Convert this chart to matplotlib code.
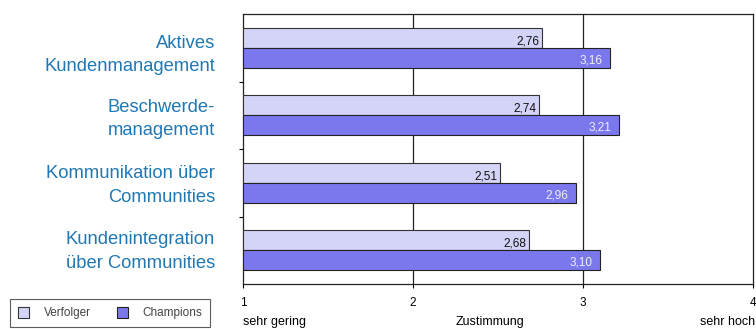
import numpy as np
import matplotlib.pyplot as plt
from matplotlib.patches import Patch

plt.rcParams['font.family'] = ['Liberation Sans', 'DejaVu Sans']

categories = ['Aktives\nKundenmanagement', 'Beschwerde-\nmanagement',
              'Kommunikation über\nCommunities', 'Kundenintegration\nüber Communities']
verfolger = [2.76, 2.74, 2.51, 2.68]
champions = [3.16, 3.21, 2.96, 3.10]
series_names = ['Verfolger', 'Champions']
xticks = [1, 2, 3, 4]

# vertical middle of each category label block, in pixels from the top
label_mid_px = [53, 117, 184, 250]

c_verf = '#d4d3f8'
c_champ = '#7b78ee'
c_label = '#1f78b4'

W, H = 756, 329
fig = plt.figure(figsize=(W / 100, H / 100), dpi=100)
ax = fig.add_axes([243 / W, 45 / H, 510 / W, 270 / H])

y = np.arange(len(categories))
h = 0.293
ax.barh(y - h / 2, np.array(verfolger) - 1, left=1, height=h, color=c_verf,
        edgecolor='#333333', linewidth=0.8, zorder=3)
ax.barh(y + h / 2, np.array(champions) - 1, left=1, height=h, color=c_champ,
        edgecolor='#222222', linewidth=0.8, zorder=3)

for i, (v, c) in enumerate(zip(verfolger, champions)):
    ax.text(v - 0.015, i - h / 2 + 0.05, f'{v:.2f}'.replace('.', ','), ha='right',
            va='center', fontsize=8.5, color='#111111', zorder=4)
    ax.text(c - 0.045, i + h / 2 + 0.04, f'{c:.2f}'.replace('.', ','), ha='right',
            va='center', fontsize=8.5, color='#eeeeff', zorder=4)

ax.set_xlim(1, 4)
ax.set_ylim(len(categories) - 0.5, -0.5)
ax.set_xticks(xticks)
ax.set_xticklabels([str(t) for t in xticks], fontsize=8.5)
ax.set_yticks([0.5, 1.5, 2.5])
ax.set_yticklabels([])
ax.tick_params(axis='y', direction='out', length=3, width=0.8, left=True)
ax.tick_params(axis='x', direction='out', length=3, width=0.8, pad=6)
for t in [2, 3]:
    ax.axvline(t, color='#222222', linewidth=0.9, zorder=1)
for s in ax.spines.values():
    s.set_linewidth(0.9)
    s.set_color('#222222')

for cat, mid in zip(categories, label_mid_px):
    fig.text(215 / W, 1 - (mid + 18) / H, cat, ha='right', va='baseline',
             fontsize=13.2, color=c_label, linespacing=1.5)

fig.text(243 / W, 1 - 322 / H, 'sehr gering', ha='left', va='center', fontsize=9)
fig.text(490 / W, 1 - 322 / H, 'Zustimmung', ha='center', va='center', fontsize=9)
fig.text(755 / W, 1 - 322 / H, 'sehr hoch', ha='right', va='center', fontsize=9)

handles = [Patch(facecolor=c_verf, edgecolor='#333333', linewidth=0.8),
           Patch(facecolor=c_champ, edgecolor='#222222', linewidth=0.8)]
leg = fig.legend(handles, series_names, loc='lower left', ncol=2, fontsize=8.5,
                 bbox_to_anchor=(10 / W, 2 / H), borderaxespad=0, frameon=True,
                 fancybox=False, handlelength=1.0, handleheight=1.0,
                 columnspacing=2.2, borderpad=0.65, handletextpad=1.2)
leg.get_frame().set_edgecolor('#333333')
leg.get_frame().set_linewidth(0.8)
for t in leg.get_texts():
    t.set_color('#444444')

fig.savefig('out.png', dpi=100)
